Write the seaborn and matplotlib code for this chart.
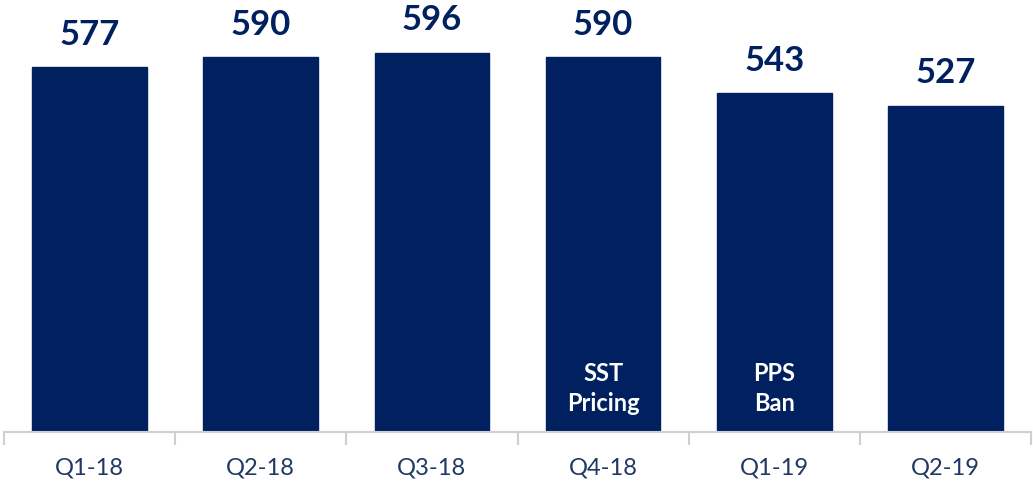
import matplotlib
matplotlib.use("Agg")
import matplotlib.pyplot as plt
import seaborn as sns
import pandas as pd

# Quarterly values
quarters = ["Q1-18", "Q2-18", "Q3-18", "Q4-18", "Q1-19", "Q2-19"]
values = [577, 590, 596, 590, 543, 527]
# Event notes shown inside selected bars
notes = {"Q4-18": "SST\nPricing", "Q1-19": "PPS\nBan"}

NAVY = "#002060"
GRID_GRAY = "#d0d0d0"

sns.set_theme(style="white")
plt.rcParams["font.family"] = ["Lato", "DejaVu Sans"]

df = pd.DataFrame({"quarter": quarters, "value": values})

fig = plt.figure(figsize=(10.33, 4.83), dpi=100)
ax = fig.add_axes([4 / 1033, 51 / 483, 1027 / 1033, 432 / 483])

sns.barplot(data=df, x="quarter", y="value", color=NAVY, width=0.67,
            saturation=1, ax=ax, edgecolor=NAVY)

ymin, ymax = 100, 665
ax.set_ylim(ymin, ymax)
ax.set_xlim(-0.5, len(quarters) - 0.5)

# Value labels above bars
for container in ax.containers:
    ax.bar_label(container, labels=[str(v) for v in values], padding=12,
                 fontsize=25, fontweight="bold", color=NAVY)

# Notes inside bars
for i, q in enumerate(quarters):
    if q in notes:
        ax.annotate(notes[q], xy=(i, ymin), xytext=(0, 12),
                    textcoords="offset points", ha="center", va="bottom",
                    fontsize=17, fontweight="bold", color="white",
                    linespacing=1.4)

# Axis styling: only a light baseline with separators between categories
for side in ["left", "right", "top"]:
    ax.spines[side].set_visible(False)
ax.spines["bottom"].set_color(GRID_GRAY)
ax.spines["bottom"].set_linewidth(1.5)
ax.set_yticks([])
ax.set_xlabel("")
ax.set_ylabel("")

ax.set_xticks(range(len(quarters)))
ax.set_xticklabels(quarters, fontsize=17, color="#1f3864")
ax.tick_params(axis="x", which="major", length=0, pad=18)
ax.set_xticks([i - 0.5 for i in range(len(quarters) + 1)], minor=True)
ax.tick_params(axis="x", which="minor", bottom=True, length=9, width=1.5,
               color=GRID_GRAY, direction="out")

fig.savefig("out.png", dpi=100)
